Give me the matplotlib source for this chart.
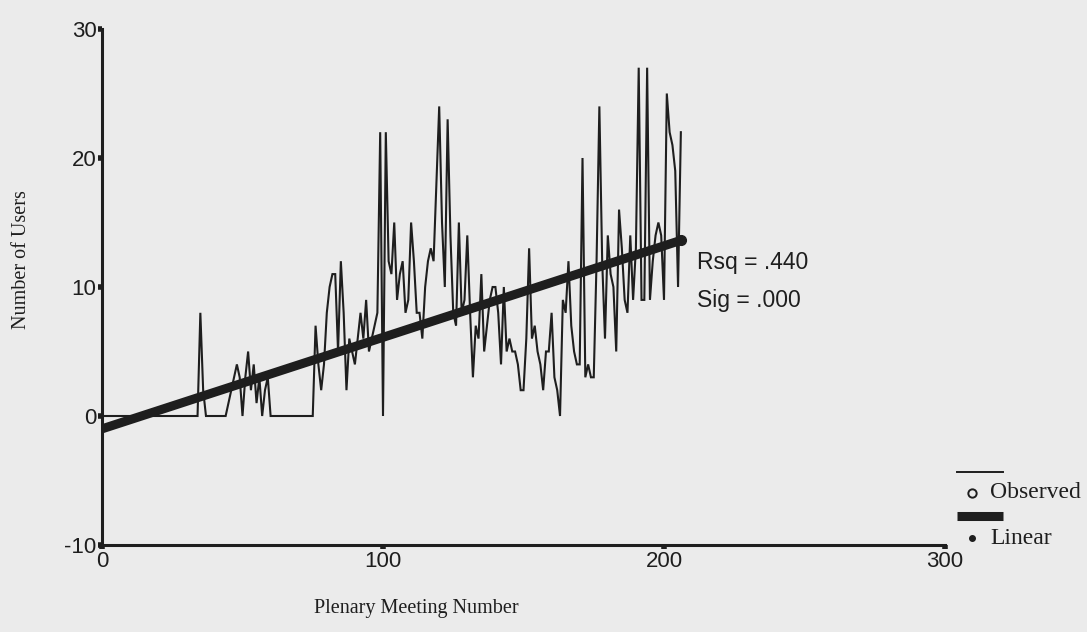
import numpy as np
import matplotlib
matplotlib.use("Agg")
import matplotlib.pyplot as plt
from matplotlib.lines import Line2D

# ---- data ----
meeting = list(range(1, 207))
users = ([0] * 34 + [8, 2] + [0] * 8 +
         [1, 2, 3, 4, 3, 0, 3, 5, 2, 4, 1, 3, 0, 2, 3] + [0] * 16 +
         [7, 4, 2, 4, 8, 10, 11, 11, 5, 12, 8, 2, 6, 5, 4, 6, 8, 6, 9, 5,
          6, 7, 8, 22, 0, 22, 12, 11, 15, 9, 11, 12, 8, 9, 15, 12, 8, 8, 6, 10,
          12, 13, 12, 18, 24, 15, 10, 23, 14, 8, 7, 15, 8, 9, 14, 8, 3, 7, 6, 11,
          5, 7, 9, 10, 10, 8, 4, 10, 5, 6, 5, 5, 4, 2, 2, 6, 13, 6, 7, 5,
          4, 2, 5, 5, 8, 3, 2, 0, 9, 8, 12, 7, 5, 4, 4, 20, 3, 4, 3, 3,
          12, 24, 12, 6, 14, 11, 10, 5, 16, 13, 9, 8, 14, 9, 13, 27, 9, 9, 27, 9,
          12, 14, 15, 14, 9, 25, 22, 21, 19, 10, 22])
x_ticks = [0, 100, 200, 300]
y_ticks = [-10, 0, 10, 20, 30]
stats_text = ["Rsq = .440", "Sig = .000"]
legend_labels = ["Observed", "Linear"]

x = np.array(meeting, dtype=float)
y = np.array(users, dtype=float)
slope, intercept = np.polyfit(x, y, 1)
xf = np.array([0.0, x.max()])
yf = intercept + slope * xf

bg = "#ebebeb"
ink = "#1e1e1e"
fig = plt.figure(figsize=(10.87, 6.32), dpi=100, facecolor=bg)
ax = fig.add_axes([102 / 1087, 87 / 632, 843 / 1087, 516 / 632])
ax.set_facecolor(bg)

ax.plot(x, y, color=ink, lw=1.5, solid_joinstyle="miter")
ax.plot(xf, yf, color=ink, lw=6.5, solid_capstyle="butt")
ax.plot([x.max()], [yf[-1]], "o", color=ink, ms=7)

ax.set_xlim(0, 300)
ax.set_ylim(-10, 30)
ax.set_xticks(x_ticks)
ax.set_yticks(y_ticks)
ax.set_xticklabels([str(v) for v in x_ticks])
ax.set_yticklabels([str(v) for v in y_ticks])
for s in ["top", "right"]:
    ax.spines[s].set_visible(False)
for s in ["left", "bottom"]:
    ax.spines[s].set_color(ink)
    ax.spines[s].set_linewidth(2.2)
ax.tick_params(axis="both", direction="out", length=3, width=4, color=ink,
               labelsize=16, pad=1)
for lab in ax.get_xticklabels() + ax.get_yticklabels():
    lab.set_family("Liberation Sans")
    lab.set_color(ink)

fig.text(416 / 1087, 1 - 608 / 632, "Plenary Meeting Number", family="Liberation Serif",
         fontsize=14.5, ha="center", va="center", color=ink)
fig.text(22 / 1087, 1 - 260 / 632, "Number of Users", family="Liberation Serif",
         fontsize=14.5, ha="center", va="center", rotation=90, color=ink)

fig.text(697 / 1087, 1 - 262 / 632, stats_text[0], family="Liberation Sans",
         fontsize=16.5, ha="left", va="center", color=ink)
fig.text(697 / 1087, 1 - 300 / 632, stats_text[1], family="Liberation Sans",
         fontsize=16.5, ha="left", va="center", color=ink)

# legend drawn in figure coordinates
def fx(px):
    return px / 1087

def fy(py):
    return 1 - py / 632

fig.add_artist(Line2D([fx(957), fx(1003)], [fy(472), fy(472)], color=ink, lw=1.4))
fig.add_artist(Line2D([fx(972)], [fy(493)], marker="o", mfc="none", mec=ink, ms=6, mew=1.4))
fig.text(fx(990), fy(493), legend_labels[0], family="Liberation Serif", fontsize=17,
         ha="left", va="center", color=ink)
fig.add_artist(Line2D([fx(957), fx(1003)], [fy(516), fy(516)], color=ink, lw=6.5,
                      solid_capstyle="butt"))
fig.add_artist(Line2D([fx(972)], [fy(538)], marker="o", color=ink, ms=4))
fig.text(fx(990), fy(538), legend_labels[1], family="Liberation Serif", fontsize=17,
         ha="left", va="center", color=ink)

fig.savefig("out.png", dpi=100, facecolor=bg)
